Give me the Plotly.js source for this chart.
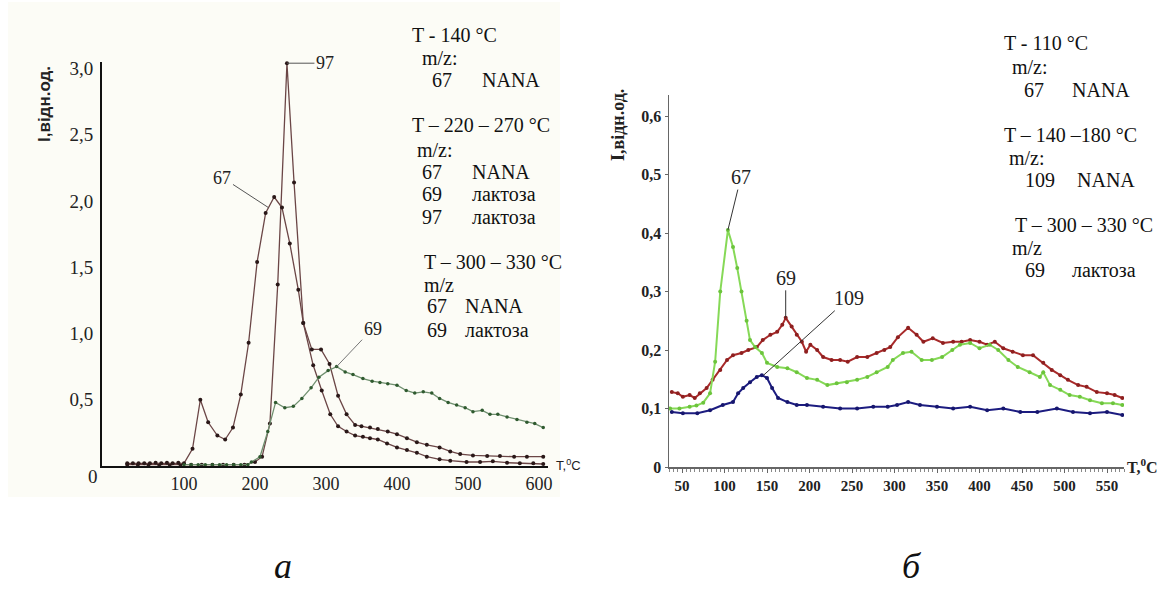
<!DOCTYPE html>
<html>
<head>
<meta charset="utf-8">
<script src="https://cdn.plot.ly/plotly-3.0.1.min.js"></script>
<style>html,body{margin:0;padding:0;background:#fff;}#chart{width:1164px;height:595px;}</style>
</head>
<body>
<div id="chart"></div>
<script>
// ---------- Panel a (left) ----------
const a_x67 = [20,28,36,44,52,60,68,76,84,92,100,112,123,134,147,158,169,180,191,203,215,227,238,249,261,268,280,293,305,317,329,341,350,362,373,387,400,414,428,442,460,475,489,507,527,545,565,583,606];
const a_y67 = [0.02,0.02,0.02,0.02,0.02,0.025,0.02,0.025,0.02,0.025,0.02,0.13,0.50,0.33,0.23,0.20,0.29,0.54,0.93,1.54,1.91,2.03,1.95,1.68,1.33,1.08,0.88,0.88,0.77,0.53,0.39,0.31,0.30,0.29,0.28,0.26,0.24,0.21,0.18,0.16,0.14,0.11,0.09,0.08,0.075,0.075,0.07,0.07,0.07];
const a_x97 = [20,35,50,65,80,95,110,125,140,155,170,185,200,210,221,232,245,255,268,282,294,306,317,329,341,352,362,373,386,400,414,428,442,460,475,498,517,535,555,573,592,606];
const a_y97 = [0.01,0.01,0.01,0.01,0.01,0.01,0.01,0.01,0.01,0.01,0.01,0.01,0.03,0.07,0.32,1.37,3.04,2.14,1.08,0.76,0.57,0.39,0.30,0.26,0.23,0.22,0.21,0.20,0.17,0.14,0.12,0.10,0.07,0.05,0.04,0.03,0.03,0.035,0.025,0.02,0.02,0.015];
const a_x69 = [100,110,120,130,140,150,160,170,180,190,195,207,218,229,242,254,266,279,290,303,315,327,338,352,365,376,387,400,413,425,437,449,460,472,484,496,507,520,531,542,555,569,583,594,606];
const a_y69 = [0.01,0.01,0.01,0.01,0.01,0.01,0.01,0.01,0.01,0.01,0.03,0.07,0.26,0.48,0.44,0.45,0.51,0.59,0.67,0.72,0.75,0.71,0.69,0.66,0.64,0.63,0.62,0.61,0.57,0.55,0.56,0.55,0.51,0.48,0.46,0.44,0.41,0.42,0.39,0.39,0.37,0.35,0.33,0.32,0.29];
const a_xticks = [100,200,300,400,500,600];
const a_yticks = [0.5,1.0,1.5,2.0,2.5,3.0];
const a_yticktext = ['0,5','1,0','1,5','2,0','2,5','3,0'];

// ---------- Panel б (right) ----------
const b_xg = [36,47,59,67,75,83,89,95,104,110,115,120,126,130,136,144,150,162,174,185,197,209,221,232,244,256,268,279,292,298,310,320,332,344,356,368,377,389,400,412,422,434,445,459,471,475,483,495,506,518,530,544,557,568];
const b_yg = [0.10,0.10,0.103,0.105,0.11,0.126,0.18,0.30,0.405,0.376,0.34,0.30,0.25,0.217,0.205,0.195,0.178,0.171,0.169,0.162,0.152,0.149,0.14,0.143,0.145,0.149,0.154,0.162,0.171,0.183,0.195,0.197,0.183,0.183,0.188,0.2,0.209,0.212,0.203,0.209,0.2,0.183,0.171,0.162,0.154,0.162,0.14,0.132,0.123,0.12,0.114,0.109,0.109,0.106];
const b_xr = [38,45,51,59,65,71,79,86,95,103,110,120,128,138,145,154,162,168,172,179,185,191,196,201,209,216,226,236,245,256,268,279,288,295,304,316,326,334,345,357,369,379,389,400,409,418,428,439,451,463,475,485,495,504,516,526,538,550,559,568];
const b_yr = [0.128,0.126,0.12,0.123,0.118,0.126,0.135,0.149,0.166,0.183,0.191,0.195,0.2,0.205,0.217,0.226,0.231,0.243,0.255,0.24,0.226,0.214,0.197,0.209,0.2,0.188,0.183,0.183,0.18,0.188,0.188,0.195,0.2,0.205,0.222,0.238,0.226,0.214,0.22,0.212,0.214,0.214,0.217,0.214,0.209,0.214,0.203,0.197,0.191,0.191,0.178,0.166,0.157,0.149,0.14,0.137,0.128,0.126,0.123,0.118];
const b_xb = [38,51,68,83,98,110,116,122,130,138,144,150,156,163,174,185,197,216,236,256,275,292,303,316,330,350,369,389,409,428,448,468,491,510,530,550,568];
const b_yb = [0.094,0.092,0.092,0.097,0.106,0.111,0.126,0.135,0.145,0.154,0.157,0.152,0.135,0.118,0.111,0.106,0.106,0.103,0.1,0.1,0.103,0.103,0.106,0.111,0.106,0.103,0.1,0.103,0.097,0.1,0.094,0.094,0.1,0.094,0.092,0.094,0.089];
const b_yticks = [0,0.1,0.2,0.3,0.4,0.5,0.6];
const b_yticktext = ['0','0,1','0,2','0,3','0,4','0,5','0,6'];

// ---------- Text blocks ----------
const a_text = [
  ['T - 140 °C',410,35],['m/z:',420,58],['67',430,80],['NANA',480,80],
  ['T – 220 – 270 °C',410,125],['m/z:',415,150],['67',420,172],['NANA',470,172],
  ['69',420,194],['лактоза',470,194],['97',420,217],['лактоза',470,217],
  ['T – 300 – 330 °C',422,262],['m/z',422,285],['67',425,306],['NANA',463,306],
  ['69',425,330],['лактоза',463,330]
];
const b_text = [
  ['T - 110 °C',1002,43],['m/z:',1010,67],['67',1022,90],['NANA',1070,90],
  ['T – 140 –180 °C',1002,135],['m/z:',1007,158],['109',1023,180],['NANA',1075,180],
  ['T – 300 – 330 °C',1013,225],['m/z',1010,248],['69',1023,270],['лактоза',1070,270]
];

const W = 1164, H = 595;
const px = v => v / W, py = v => 1 - v / H;
const SERIF = 'Liberation Serif, Times New Roman, serif';
const SANS = 'Liberation Sans, Arial, sans-serif';

const darkLine = '#6b4646', darkMk = '#2a1818';
const grLine = '#6f8f6f', grMk = '#2f5a2f';

const traces = [
  {x:a_x97, y:a_y97, xaxis:'x', yaxis:'y', mode:'lines+markers', line:{color:darkLine,width:1.3}, marker:{color:darkMk,size:4}, cliponaxis:false},
  {x:a_x67, y:a_y67, xaxis:'x', yaxis:'y', mode:'lines+markers', line:{color:darkLine,width:1.3}, marker:{color:darkMk,size:4}, cliponaxis:false},
  {x:a_x69, y:a_y69, xaxis:'x', yaxis:'y', mode:'lines+markers', line:{color:grLine,width:1.3}, marker:{color:grMk,size:3.5}, cliponaxis:false},
  {x:b_xb, y:b_yb, xaxis:'x2', yaxis:'y2', mode:'lines+markers', line:{color:'#1c1c80',width:2}, marker:{color:'#16166e',size:4}},
  {x:b_xr, y:b_yr, xaxis:'x2', yaxis:'y2', mode:'lines+markers', line:{color:'#a82a2a',width:2}, marker:{color:'#8e1f1f',size:4}},
  {x:b_xg, y:b_yg, xaxis:'x2', yaxis:'y2', mode:'lines+markers', line:{color:'#86d957',width:2}, marker:{color:'#6cc43c',size:4}}
];

function pAnn(text, x, y, font, extra) {
  return Object.assign({xref:'paper', yref:'paper', x:px(x), y:py(y), xanchor:'center', yanchor:'middle',
    text:text, showarrow:false, font:font}, extra || {});
}

const ann = [];
a_text.concat(b_text).forEach(t => ann.push(pAnn(t[0], t[1], t[2], {family:SERIF, size:20, color:'#111'}, {xanchor:'left'})));
// callouts, panel a
const callA = {showarrow:true, arrowhead:0, arrowwidth:1, standoff:0, font:{family:SERIF,size:18,color:'#222'}};
ann.push(Object.assign({xref:'x', yref:'y', x:245, y:3.04, ax:38, ay:0, text:'97', arrowcolor:'#555'}, callA));
ann.push(Object.assign({xref:'x', yref:'y', x:219, y:1.95, ax:-46, ay:-30, text:'67', arrowcolor:'#555'}, callA));
ann.push(Object.assign({xref:'x', yref:'y', x:315, y:0.75, ax:36, ay:-38, text:'69', arrowcolor:'#777'}, callA));
// callouts, panel б
const callB = {showarrow:true, arrowhead:0, arrowwidth:1, standoff:0, arrowcolor:'#333', font:{family:SERIF,size:20,color:'#222'}};
ann.push(Object.assign({xref:'x2', yref:'y2', x:104, y:0.405, ax:13, ay:-53, text:'67'}, callB));
ann.push(Object.assign({xref:'x2', yref:'y2', x:172, y:0.255, ax:0, ay:-40, text:'69'}, callB));
ann.push(Object.assign({xref:'x2', yref:'y2', x:146, y:0.157, ax:85, ay:-77, text:'109'}, callB));
// axis titles and misc
ann.push(pAnn('I,відн.од.', 44, 104, {family:SANS,size:17,color:'#222',weight:'bold'}, {textangle:-90}));
ann.push(pAnn('I,відн.од.', 618, 125, {family:SERIF,size:18,color:'#222',weight:'bold'}, {textangle:-90}));
ann.push(pAnn('T,<sup>0</sup>C', 554, 465, {family:SANS,size:13,color:'#222'}, {xanchor:'left'}));
ann.push(pAnn('T,<sup>0</sup>C', 1125, 466, {family:SERIF,size:16,color:'#222',weight:'bold'}, {xanchor:'left'}));
ann.push(pAnn('0', 93, 476, {family:SERIF,size:19,color:'#222'}));
ann.push(pAnn('<i>а</i>', 283, 566, {family:SERIF,size:36,color:'#111'}));
ann.push(pAnn('<i>б</i>', 912, 566, {family:SERIF,size:36,color:'#111'}));

const layout = {
  width:W, height:H, margin:{l:0,r:0,t:0,b:0}, paper_bgcolor:'#fff', plot_bgcolor:'rgba(0,0,0,0)',
  showlegend:false,
  shapes:[{type:'rect', xref:'paper', yref:'paper', x0:px(8), x1:px(560), y0:py(497), y1:py(2),
           fillcolor:'#fcfcf6', line:{width:0}, layer:'below'}],
  xaxis:{domain:[px(102),px(548)], range:[-15.5,612.7], anchor:'y', showline:true, linecolor:'#111', linewidth:2,
         tickmode:'array', tickvals:a_xticks, ticks:'', showgrid:false, zeroline:false,
         tickfont:{family:SERIF,size:18,color:'#222'}},
  yaxis:{domain:[py(466),py(62)], range:[0,3.049], anchor:'x', showline:true, linecolor:'#111', linewidth:2,
         tickmode:'array', tickvals:a_yticks, ticktext:a_yticktext, ticks:'', showgrid:false, zeroline:false,
         ticklabelstandoff:3, tickfont:{family:SERIF,size:19,color:'#222'}},
  xaxis2:{domain:[px(669),px(1124)], range:[34.7,570], anchor:'y2', showline:true, linecolor:'#666', linewidth:1.5,
         tickmode:'linear', tick0:50, dtick:50, ticks:'outside', ticklen:4, tickcolor:'#666', tickwidth:1,
         minor:{dtick:5, tick0:0, ticks:'outside', ticklen:3, tickcolor:'#888', tickwidth:1},
         showgrid:false, zeroline:false, tickfont:{family:SERIF,size:15,color:'#222',weight:'bold'}},
  yaxis2:{domain:[py(467),py(95)], range:[0,0.6359], anchor:'x2', showline:true, linecolor:'#666', linewidth:1.5,
         tickmode:'array', tickvals:b_yticks, ticktext:b_yticktext, ticks:'outside', ticklen:3, tickcolor:'#666',
         showgrid:false, zeroline:false, tickfont:{family:SERIF,size:16,color:'#222',weight:'bold'}},
  annotations:ann
};

Plotly.newPlot('chart', traces, layout, {staticPlot:true, displayModeBar:false});
</script>
</body>
</html>
